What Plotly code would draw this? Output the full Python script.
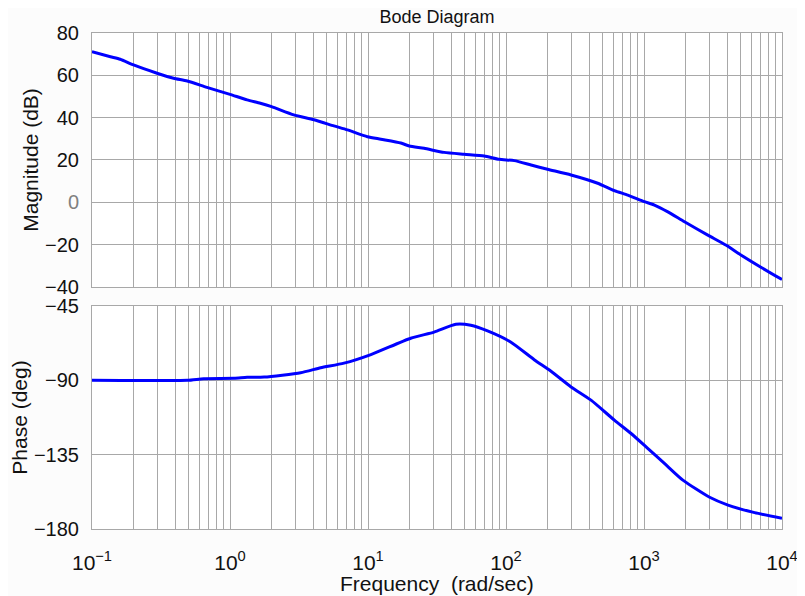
import plotly.graph_objects as go
from plotly.subplots import make_subplots

# magnitude curve (rad/sec, dB)
mag_freq = [0.1, 0.136, 0.16, 0.2, 0.296, 0.39, 0.49, 0.68, 1.0, 1.33, 1.66, 2.0, 2.9,
            4.06, 5.66, 7.1, 9.9, 12.4, 17.3, 19.9, 25.5, 35.6, 49.8, 69.5, 89.3, 115,
            152, 200, 296, 462, 610, 763, 1007, 1190, 1490, 1965, 2900, 3945, 5070,
            7080, 10000]
mag_db = [71.2, 68.8, 67.6, 64.9, 61.0, 58.6, 57.3, 54.3, 51.0, 48.4, 46.8, 45.2, 41.3,
          39.0, 36.1, 34.2, 31.0, 29.8, 28.0, 26.6, 25.5, 23.6, 22.7, 21.9, 20.3, 19.7,
          17.6, 15.6, 12.9, 9.0, 5.5, 3.4, 0.3, -1.3, -4.5, -9.2, -15.5, -20.3, -25.0,
          -30.8, -36.5]

# phase curve (rad/sec, deg)
ph_freq = [0.1, 0.49, 0.645, 1.07, 1.33, 1.77, 3.25, 4.54, 6.7, 10.5, 20.4, 30.1, 43.3,
           55.6, 73.5, 108, 160, 212, 296, 413, 610, 806, 1064, 1406, 1913, 2990, 4060,
           6330, 10000]
ph_deg = [-90.0, -90.0, -89.0, -88.8, -88.2, -88.0, -85.4, -82.4, -79.6, -74.4, -64.5,
          -60.8, -56.1, -56.7, -60.1, -66.8, -77.5, -84.5, -94.0, -102.0, -114.1, -122.2,
          -131.2, -140.3, -150.4, -160.8, -165.5, -170.1, -173.5]

decades = [-1, 0, 1, 2, 3, 4]
mag_ticks = [-40, -20, 0, 20, 40, 60, 80]
phase_ticks = [-180, -135, -90, -45]

minor_vals = [m * 10 ** d for d in decades[:-1] for m in range(2, 10)]
decade_vals = [10 ** d for d in decades]
decade_text = ['10<sup>%s</sup>' % str(d).replace('-', '\u2212') for d in decades]
mag_text = ['<span style="color:#808080">0</span>' if t == 0 else str(t).replace('-', '\u2212')
            for t in mag_ticks]
phase_text = [str(t).replace('-', '\u2212') for t in phase_ticks]

font = 'Liberation Sans, Arial, sans-serif'
grid = '#a8a8a8'
ink = '#111111'

fig = make_subplots(rows=2, cols=1, shared_xaxes=True)
fig.add_trace(go.Scatter(x=mag_freq, y=mag_db, mode='lines', line_shape='spline',
                         line=dict(color='#0000ff', width=3, smoothing=0.6),
                         showlegend=False), row=1, col=1)
fig.add_trace(go.Scatter(x=ph_freq, y=ph_deg, mode='lines', line_shape='spline',
                         line=dict(color='#0000ff', width=3, smoothing=0.6),
                         showlegend=False), row=2, col=1)

fig.update_xaxes(
    type='log', range=[-1, 4], showline=True, linecolor=grid, mirror=True,
    tickvals=decade_vals, ticktext=decade_text, showgrid=True, gridcolor=grid,
    gridwidth=1, ticks='', zeroline=False, automargin=False, ticklabelstandoff=15,
    minor=dict(tickvals=minor_vals, showgrid=True, gridcolor=grid, gridwidth=1, ticks=''),
    tickfont=dict(size=21, color=ink, family=font),
)
fig.update_xaxes(showticklabels=False, row=1, col=1)

fig.update_yaxes(showline=True, linecolor=grid, mirror=True, showgrid=True, gridcolor=grid,
                 zeroline=False, ticks='', automargin=False, ticklabelstandoff=8,
                 tickfont=dict(size=20, color=ink, family=font))
fig.update_yaxes(row=1, col=1, range=[-40, 80], tickvals=mag_ticks, ticktext=mag_text,
                 domain=[0.488, 1.0],
                 title=dict(text='Magnitude (dB)', standoff=0,
                            font=dict(size=21, color=ink, family=font)))
fig.update_yaxes(row=2, col=1, range=[-180, -45], tickvals=phase_ticks, ticktext=phase_text,
                 domain=[0.0, 0.4496],
                 title=dict(text='Phase (deg)', standoff=0,
                            font=dict(size=21, color=ink, family=font)))

# x axis title placed as an annotation so it can sit close under the tick labels
fig.add_annotation(text='Frequency  (rad/sec)', xref='paper', yref='paper', x=0.5, y=-0.109,
                   xanchor='center', yanchor='middle', showarrow=False,
                   font=dict(size=21, color=ink, family=font))

fig.update_layout(
    width=805, height=596,
    margin=dict(l=84, r=31, t=25, b=75),
    paper_bgcolor='#fcfcfc', plot_bgcolor='#ffffff',
    title=dict(text='Bode Diagram', x=0.533, xanchor='center', y=0.985, yanchor='middle',
               font=dict(size=18, color=ink, family=font)),
)

fig.write_html('out.html')
